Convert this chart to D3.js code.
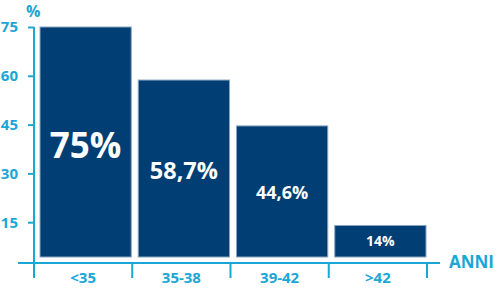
<!DOCTYPE html>
<html>
<head>
<meta charset="utf-8">
<script src="https://cdn.jsdelivr.net/npm/d3@7"></script>
<style>
body { margin: 0; background: #fff; }
text { font-family: "Open Sans", sans-serif; font-weight: 700; }
</style>
</head>
<body>
<svg width="500" height="292"></svg>
<script>
var categories = ["<35", "35-38", "39-42", ">42"];
var values = [75, 58.7, 44.6, 14];
var valueLabels = ["75%", "58,7%", "44,6%", "14%"];
var labelSizes = [35, 23.5, 18, 14];
var yTicks = [15, 30, 45, 60, 75];

var cyan = "#1aa7d6", navy = "#003e73";

var svg = d3.select("svg");

var x = d3.scaleBand()
  .domain(categories)
  .range([34, 427])
  .paddingInner(0).paddingOuter(0);

var y = d3.scaleLinear()
  .domain([0, 75])
  .range([271, 27]);

var axisY = 263, barBottom = 257;

// barres
svg.selectAll(".bar")
  .data(values)
  .enter().append("rect")
    .attr("class", "bar")
    .attr("x", function(d, i) { return x(categories[i]) + 6; })
    .attr("y", function(d) { return y(d); })
    .attr("width", x.bandwidth() - 7)
    .attr("height", function(d) { return barBottom - y(d); })
    .style("fill", navy)
    .style("stroke", "#8aa6c4")
    .style("stroke-width", 1);

// labels dans les barres
svg.selectAll(".vlab")
  .data(values)
  .enter().append("text")
    .attr("class", "vlab")
    .attr("x", function(d, i) { return x(categories[i]) + 2.5 + x.bandwidth() / 2; })
    .attr("y", function(d, i) { return [145, 171, 193, 241][i]; })
    .attr("dy", "0.36em")
    .attr("text-anchor", "middle")
    .style("fill", "#fff")
    .style("font-size", function(d, i) { return labelSizes[i] + "px"; })
    .text(function(d, i) { return valueLabels[i]; });

// axe y
var gy = svg.append("g")
  .attr("transform", "translate(34,0)")
  .call(d3.axisLeft(y).tickValues(yTicks).tickSize(6).tickPadding(10));
gy.select(".domain").remove();
gy.append("line").attr("x1", 0).attr("x2", 0).attr("y1", y(75)).attr("y2", 278)
  .style("stroke", cyan).style("stroke-width", 2);
gy.selectAll(".tick line").style("stroke", cyan).style("stroke-width", 2);
gy.selectAll(".tick text").style("fill", cyan).style("font-size", "15px")
  .attr("font-family", null).attr("font-size", null);

svg.append("text").attr("x", 26).attr("y", 17).text("%")
  .style("fill", cyan).style("font-size", "16px");

// axe x
var gx = svg.append("g")
  .attr("transform", "translate(0," + axisY + ")")
  .call(d3.axisBottom(x).tickSize(0).tickPadding(9));
gx.select(".domain").remove();
gx.append("line").attr("x1", 18).attr("x2", 440).attr("y1", 0).attr("y2", 0)
  .style("stroke", cyan).style("stroke-width", 2);
gx.selectAll(".sep")
  .data(categories.concat([null]))
  .enter().append("line")
    .attr("class", "sep")
    .attr("x1", function(d, i) { return i < categories.length ? x(d) : x.range()[1]; })
    .attr("x2", function(d, i) { return i < categories.length ? x(d) : x.range()[1]; })
    .attr("y1", 0).attr("y2", 15)
    .style("stroke", cyan).style("stroke-width", 2);
gx.selectAll(".tick text").style("fill", cyan).style("font-size", "15px")
  .attr("font-family", null).attr("font-size", null);

svg.append("text").attr("x", 449).attr("y", 268).text("ANNI")
  .style("fill", cyan).style("font-size", "17px");
</script>
</body>
</html>
